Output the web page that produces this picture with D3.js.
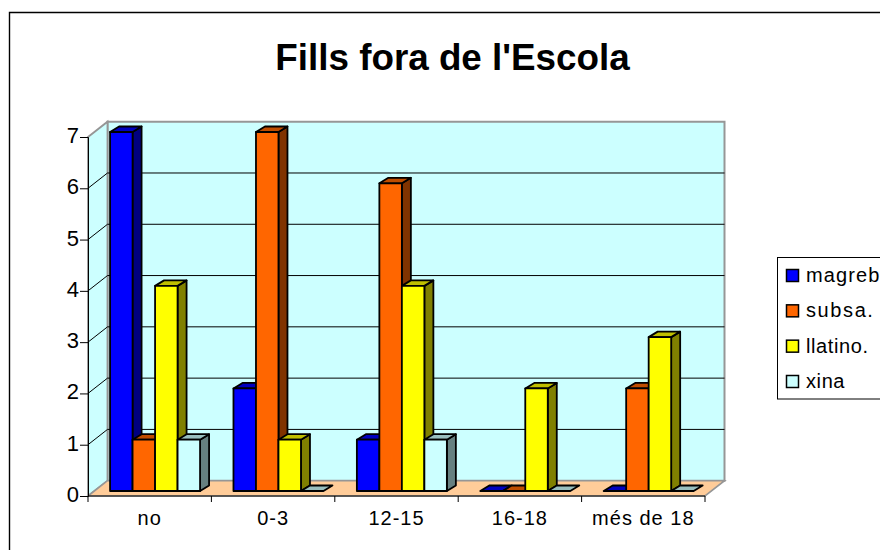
<!DOCTYPE html>
<html><head><meta charset="utf-8">
<script src="https://cdn.jsdelivr.net/npm/d3@7/dist/d3.min.js"></script>
<style>html,body{margin:0;padding:0;background:#fff;overflow:hidden}svg{display:block;font-family:"Liberation Sans",Arial,sans-serif}</style>
</head><body><svg id="c" width="880" height="550"></svg>
<script>
const categories = ["no","0-3","12-15","16-18","més de 18"];
const seriesNames = ["magreb","subsa.","llatino.","xina"];
const magreb = [7,2,1,0,0];
const subsa = [1,7,6,0,2];
const llatino = [4,1,4,2,3];
const xina = [1,0,1,0,0];
const seriesValues = [magreb,subsa,llatino,xina];
const yTicks = [0,1,2,3,4,5,6,7];
const colors = [
 {f:"#0000FF",s:"#000080",t:"#0000BF"},
 {f:"#FF6600",s:"#803300",t:"#BF4D00"},
 {f:"#FFFF00",s:"#808000",t:"#BFBF00"},
 {f:"#CCFFFF",s:"#668080",t:"#99BFBF"}];

const svg = d3.select("#c");
const L=88,R=705,B=496,T=137,DX=19.5,DY=15.3;
const x = d3.scaleBand().domain(categories).range([L,R]);
const y = d3.scaleLinear().domain([0,7]).range([B,T]);
const inner = d3.scaleBand().domain(d3.range(4)).range([0,90]);
const poly = p => p.map(d=>d.join(",")).join(" ");

svg.append("path").attr("d","M9.5 550V12.5H880").attr("fill","none").attr("stroke","#000").attr("stroke-width",1.4);
svg.append("text").attr("x",452.5).attr("y",69.5).attr("text-anchor","middle").attr("font-size",36.8).attr("font-weight","bold").text("Fills fora de l'Escola");

// walls
svg.append("polygon").attr("points",poly([[L+DX,T-DY],[R+DX,T-DY],[R+DX,B-DY],[L+DX,B-DY]])).attr("fill","#CCFFFF").attr("stroke","#969696").attr("stroke-width",2);
svg.append("polygon").attr("points",poly([[L,T],[L+DX,T-DY],[L+DX,B-DY],[L,B]])).attr("fill","#CCFFFF").attr("stroke","#969696").attr("stroke-width",1.8);
svg.append("polygon").attr("points",poly([[L,B],[L+DX,B-DY],[R+DX,B-DY],[R,B]])).attr("fill","#FFCC99").attr("stroke","#969696").attr("stroke-width",1.6);

// gridlines
yTicks.filter(v=>v>0&&v<7).forEach(v=>{
  svg.append("polyline").attr("points",poly([[L,y(v)],[L+DX,y(v)-DY],[R+DX,y(v)-DY]])).attr("fill","none").attr("stroke","#000").attr("stroke-width",1);
});

// bars
const z0=5,dxz=DX*z0/DY-1,bx=9,by=5.5;
categories.forEach((c,i)=>{
  const off=(x.bandwidth()-inner.range()[1])/2+x(c)+dxz;
  seriesValues.forEach((vals,s)=>{
    const col=colors[s], w=inner.bandwidth();
    const x0=off+inner(s), x1=x0+w;
    const yb=y(0)-z0, yt=y(vals[i])-z0;
    const g=svg.append("g").attr("stroke","#000").attr("stroke-width",1.8).attr("stroke-linejoin","round");
    if(vals[i]>0){
      g.append("polygon").attr("points",poly([[x1,yt],[x1+bx,yt-by],[x1+bx,yb-by],[x1,yb]])).attr("fill",col.s);
      g.append("polygon").attr("points",poly([[x0,yt],[x0+bx,yt-by],[x1+bx,yt-by],[x1,yt]])).attr("fill",col.t);
      g.append("rect").attr("x",x0).attr("y",yt).attr("width",w).attr("height",yb-yt).attr("fill",col.f);
    } else {
      g.append("polygon").attr("points",poly([[x0,yb],[x0+bx,yb-by],[x1+bx,yb-by],[x1,yb]])).attr("fill",col.t);
    }
  });
});

// axes
const yAxis = d3.axisLeft(y).tickValues(yTicks).tickSize(8).tickPadding(1).tickFormat(d3.format("d"));
svg.append("g").attr("transform",`translate(${L},0)`).call(yAxis)
  .call(g=>g.selectAll("text").attr("font-size",22).attr("font-family","Liberation Sans").attr("fill","#000").attr("dy","0.25em"))
  .call(g=>g.selectAll("line,path").attr("stroke","#000"));
const xAxis = d3.axisBottom(x).tickSize(0).tickPadding(15);
const xg=svg.append("g").attr("transform",`translate(0,${B})`).call(xAxis);
xg.selectAll("text").attr("font-size",20).attr("font-family","Liberation Sans").attr("fill","#000").attr("letter-spacing",1);
xg.select("path").attr("stroke","#000").attr("d",`M${L},0H${R}`);
[...categories.map(c=>x(c)),R].forEach(px=>{
  xg.append("line").attr("x1",px).attr("x2",px).attr("y1",0).attr("y2",6).attr("stroke","#000");
});

// legend
const lg=svg.append("g");
lg.append("rect").attr("x",777.5).attr("y",257.5).attr("width",120).attr("height",141.5).attr("fill","#fff").attr("stroke","#000").attr("stroke-width",1);
const ly=d3.scalePoint().domain(seriesNames).range([275.5,381.5]);
seriesNames.forEach((n,i)=>{
  lg.append("rect").attr("x",786.5).attr("y",ly(n)-6).attr("width",12).attr("height",12).attr("fill",colors[i].f).attr("stroke","#000").attr("stroke-width",1.5);
  lg.append("text").attr("x",806).attr("y",ly(n)+6.5).attr("font-size",20).attr("letter-spacing",i===0?1.1:i===1?1.6:0.6).text(n);
});
</script></body></html>
